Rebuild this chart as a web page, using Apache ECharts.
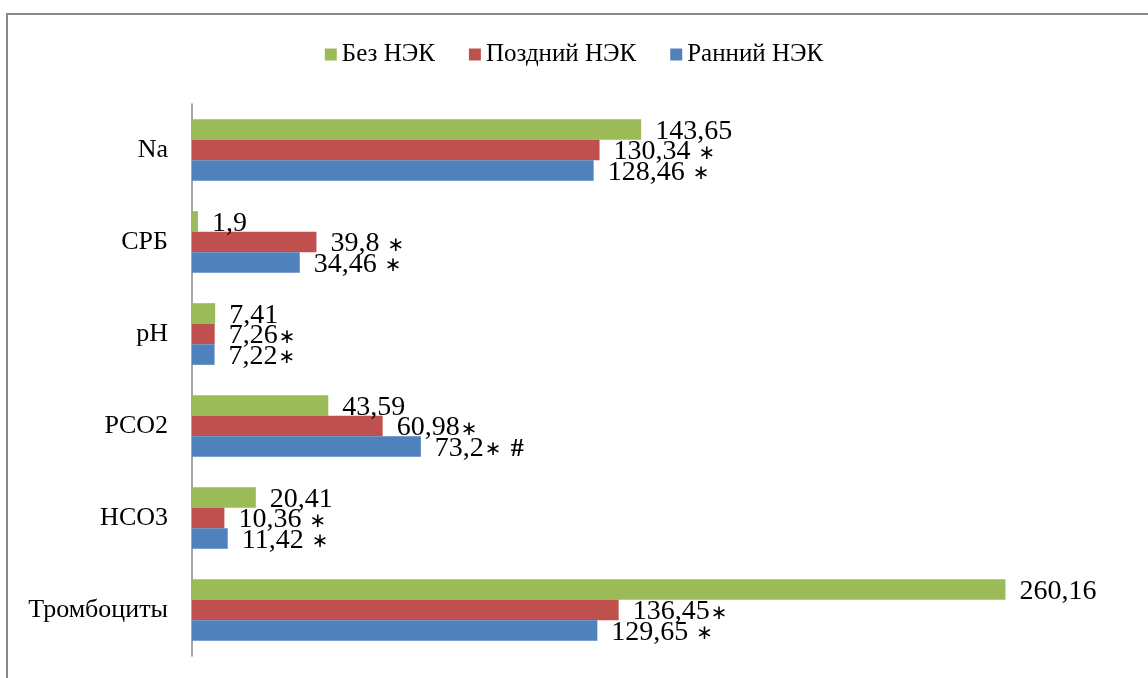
<!DOCTYPE html>
<html>
<head>
<meta charset="utf-8">
<script src="https://cdn.jsdelivr.net/npm/echarts@6/dist/echarts.min.js"></script>
<style>
	html,body{margin:0;padding:0;background:#fff;}
	#main{width:1148px;height:678px;}
</style>
</head>
<body>
<div id="main"></div>
<script>
// categories, top to bottom
var categories = ['Na', 'СРБ', 'pH', 'PCO2', 'HCO3', 'Тромбоциты'];
var seriesNames = ['Без НЭК', 'Поздний НЭК', 'Ранний НЭК'];
// values
var bezNek = [143.65, 1.9, 7.41, 43.59, 20.41, 260.16];
var pozdniyNek = [130.34, 39.8, 7.26, 60.98, 10.36, 136.45];
var ranniyNek = [128.46, 34.46, 7.22, 73.2, 11.42, 129.65];
// значки достоверности после чисел
var bezNekMarks = ['', '', '', '', '', ''];
var pozdniyMarks = [' ∗', ' ∗', '∗', '∗', ' ∗', '∗'];
var ranniyMarks = [' ∗', ' ∗', '∗', '∗ #', ' ∗', ' ∗'];

var colors = ['#9bbb59', '#c0504d', '#4f81bd'];
var font = '"Liberation Serif", "Times New Roman", serif';

function makeSeries(name, data, marks, color){
	return {
		name: name,
		type: 'bar',
		data: data,
		barGap: '0%',
		barCategoryGap: '33%',
		itemStyle: {color: color},
		label: {
			show: true,
			position: 'right',
			distance: 14,
			offset: [0, 2],
			color: '#000',
			fontFamily: font,
			fontSize: 28,
			formatter: function(p){
				var m = marks[p.dataIndex].replace(/∗/g, '{s|∗}').replace(/#/g, '{h|#}');
				return '{v|' + String(p.value).replace('.', ',') + '}' + m;
			},
			rich: {
				v: {fontFamily: font, fontSize: 28, color: '#000'},
				s: {fontFamily: 'DejaVu Sans', fontSize: 20, color: '#000', padding: [3, 0, 0, 1]},
				h: {fontFamily: font, fontSize: 26, fontWeight: 'bold', color: '#000', padding: [2, 0, 0, 2]}
			}
		}
	};
}

var myChart = echarts.init(document.getElementById('main'));
var option = {
	animation: false,
	color: colors,
	legend: {
		top: 37,
		left: 'center',
		itemWidth: 12,
		itemHeight: 12,
		itemGap: 34,
		icon: 'rect',
		textStyle: {fontFamily: font, fontSize: 25, color: '#000'},
		data: seriesNames
	},
	grid: {
		left: 192,
		right: 18,
		top: 104,
		bottom: 22
	},
	xAxis: {
		type: 'value',
		min: 0,
		max: 300,
		show: false
	},
	yAxis: {
		type: 'category',
		inverse: true,
		data: categories,
		axisLine: {lineStyle: {color: '#888', width: 1.5}},
		axisTick: {show: false},
		axisLabel: {margin: 24, fontFamily: font, fontSize: 26, color: '#000'}
	},
	graphic: [{
		type: 'rect',
		shape: {x: 7, y: 14, width: 1200, height: 720},
		style: {fill: 'none', stroke: '#888', lineWidth: 2},
		silent: true
	}],
	series: [
		makeSeries(seriesNames[0], bezNek, bezNekMarks, colors[0]),
		makeSeries(seriesNames[1], pozdniyNek, pozdniyMarks, colors[1]),
		makeSeries(seriesNames[2], ranniyNek, ranniyMarks, colors[2])
	]
};
myChart.setOption(option);
</script>
</body>
</html>
